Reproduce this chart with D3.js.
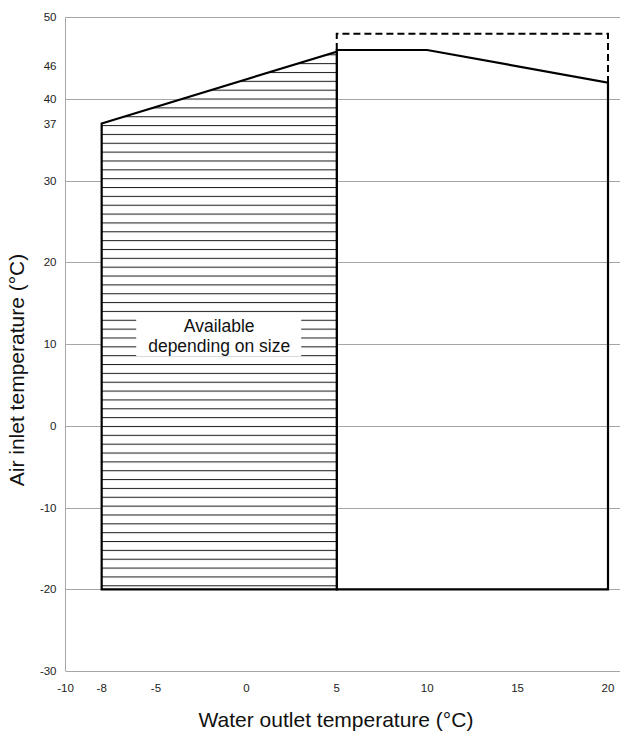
<!DOCTYPE html>
<html>
<head>
<meta charset="utf-8">
<script src="https://cdn.jsdelivr.net/npm/d3@7/dist/d3.min.js"></script>
<style>
  html, body { margin: 0; padding: 0; background: #fff; }
  svg { display: block; font-family: "Liberation Sans", Arial, sans-serif; }
</style>
</head>
<body>
<svg id="chart" width="622" height="736"></svg>
<script>
// Operating envelope: water outlet temperature (x) vs air inlet temperature (y)
const xDomain = [-10, 20];
const yDomain = [-30, 50];
const xTickValues = [-10, -8, -5, 0, 5, 10, 15, 20];
const yGridValues = [50, 40, 30, 20, 10, 0, -10, -20, -30];
const yTickValues = [50, 44, 40, 37, 30, 20, 10, 0, -10, -20, -30];
const yTickLabels = ["50", "46", "40", "37", "30", "20", "10", "0", "-10", "-20", "-30"];

// Hatched zone (optional, depending on unit size)
const optionalZone = [[-8, -20], [-8, 37], [5, 45.8], [5, -20]];
// Standard zone
const standardZone = [[5, -20], [5, 46], [10, 46], [20, 42], [20, -20]];
// Extended upper limit (dashed)
const extendedLimit = [[5, 46], [5, 48], [20, 48], [20, 42]];

const zoneLabel = { x: -1.5, y: 11.1, lines: ["Available", "depending on size"] };

const svg = d3.select("#chart");
const x = d3.scaleLinear().domain(xDomain).range([65.5, 608]);
const y = d3.scaleLinear().domain(yDomain).range([671, 17.3]);
const line = d3.line().x(d => x(d[0])).y(d => y(d[1]));

// Horizontal hatch pattern
const defs = svg.append("defs");
const pat = defs.append("pattern")
  .attr("id", "hatch")
  .attr("patternUnits", "userSpaceOnUse")
  .attr("width", 10).attr("height", 8.85)
  .attr("y", y(40) - 0.5);
pat.append("line")
  .attr("x1", 0).attr("x2", 10).attr("y1", 0.5).attr("y2", 0.5)
  .attr("stroke", "#222").attr("stroke-width", 1.1);

// Gridlines
svg.append("g").selectAll("line").data(yGridValues).join("line")
  .attr("x1", x(-10)).attr("x2", 620)
  .attr("y1", d => Math.round(y(d)) + 0.5).attr("y2", d => Math.round(y(d)) + 0.5)
  .attr("stroke", "#a6a6a6").attr("stroke-width", 1);
svg.append("line")
  .attr("x1", x(-10)).attr("x2", x(-10))
  .attr("y1", y(50)).attr("y2", y(-30))
  .attr("stroke", "#a6a6a6").attr("stroke-width", 1);

// Standard zone outline
svg.append("path")
  .attr("d", line(standardZone) + "Z")
  .attr("fill", "none").attr("stroke", "#000").attr("stroke-width", 2.2)
  .attr("stroke-linejoin", "miter");

// Optional zone, white fill then hatch
svg.append("path").attr("d", line(optionalZone) + "Z").attr("fill", "#fff");
svg.append("path").attr("d", line(optionalZone) + "Z").attr("fill", "url(#hatch)");

// Label box over the hatching
const lx = x(zoneLabel.x), ly = y(zoneLabel.y);
svg.append("rect")
  .attr("x", lx - 83).attr("y", ly - 22).attr("width", 165).attr("height", 43)
  .attr("fill", "#fff");
svg.append("text")
  .attr("x", lx).attr("y", ly - 3.5)
  .attr("text-anchor", "middle").attr("font-size", 17.5).attr("fill", "#111")
  .selectAll("tspan").data(zoneLabel.lines).join("tspan")
  .attr("x", lx).attr("dy", (d, i) => i === 0 ? 0 : 20)
  .text(d => d);

svg.append("path")
  .attr("d", line(optionalZone) + "Z")
  .attr("fill", "none").attr("stroke", "#000").attr("stroke-width", 2.2);

// Extended limit, dashed
svg.append("path")
  .attr("d", line(extendedLimit))
  .attr("fill", "none").attr("stroke", "#000").attr("stroke-width", 2)
  .attr("stroke-dasharray", "7,4");

// Axis tick labels
svg.append("g").selectAll("text").data(xTickValues).join("text")
  .attr("x", d => x(d)).attr("y", 692)
  .attr("text-anchor", "middle").attr("font-size", 11.5).attr("fill", "#222")
  .text(d => d);
svg.append("g").selectAll("text").data(yTickValues).join("text")
  .attr("x", 56.5).attr("y", d => y(d) + 4)
  .attr("text-anchor", "end").attr("font-size", 11.5).attr("fill", "#222")
  .text((d, i) => yTickLabels[i]);

// Axis titles
svg.append("text")
  .attr("x", 336).attr("y", 727)
  .attr("text-anchor", "middle").attr("font-size", 21).attr("fill", "#111")
  .text("Water outlet temperature (°C)");
svg.append("text")
  .attr("transform", "translate(24,370) rotate(-90)")
  .attr("text-anchor", "middle").attr("font-size", 21).attr("fill", "#111")
  .text("Air inlet temperature (°C)");
</script>
</body>
</html>
